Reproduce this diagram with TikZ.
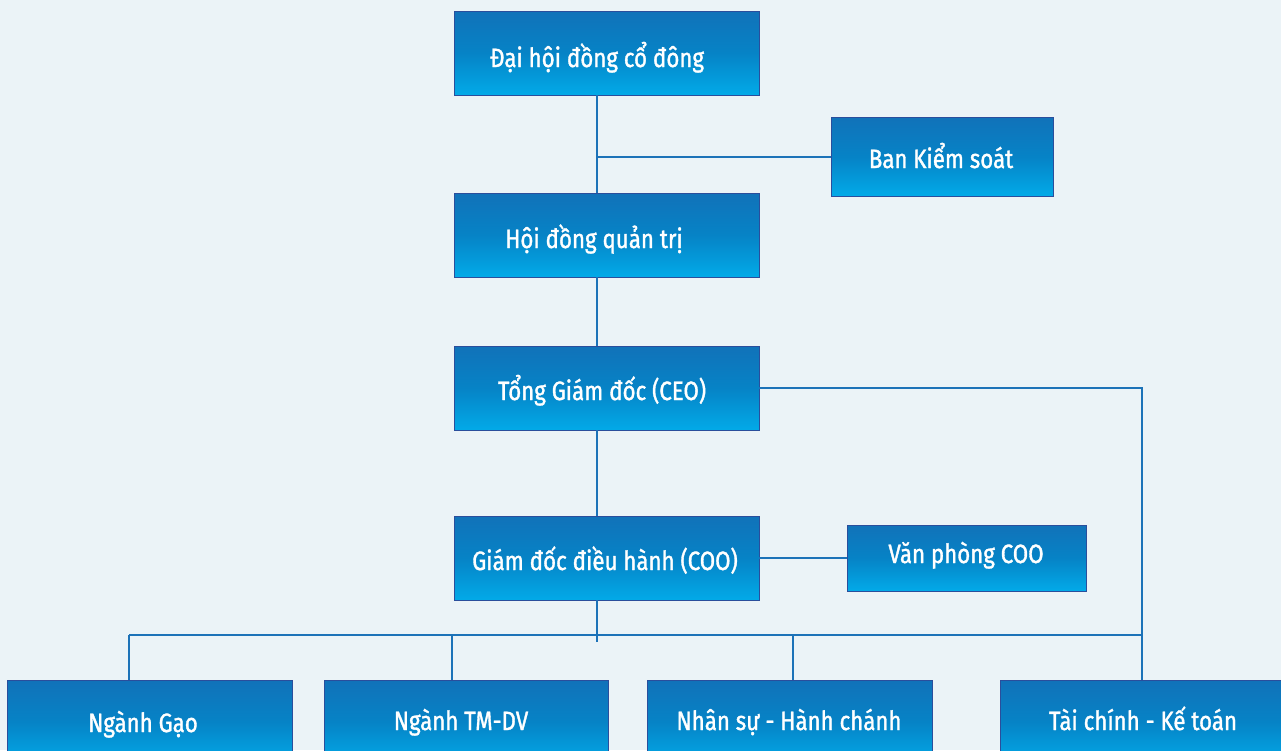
\documentclass[tikz,border=0pt]{standalone}
\usepackage{fontspec}
\usetikzlibrary{calc}
\setmainfont{Fira Sans}[FakeStretch=0.84,FakeBold=1.3]
\definecolor{bg}{HTML}{EBF3F7}
\definecolor{linec}{HTML}{1C72B8}
\definecolor{boxtop}{HTML}{1172B9}
\definecolor{boxbot}{HTML}{02AAE8}
\definecolor{boxmid}{HTML}{0683C6}
\definecolor{boxedge}{HTML}{2A4E9C}
\tikzset{
  orgbox/.style={draw=boxedge, line width=0.8pt, rectangle, inner sep=0pt,
    top color=boxtop, bottom color=boxbot, middle color=boxmid},
  lbl/.style={text=white, anchor=base, inner sep=0pt, font=\fontsize{26.5}{30}\selectfont},
  conn/.style={draw=linec, line width=1.8pt}
}
\begin{document}
\begin{tikzpicture}[x=1pt,y=-1pt]
\fill[bg] (0,0) rectangle (1281,750);
\useasboundingbox (0,0) rectangle (1281,750);
\clip (0,0) rectangle (1281,750);
% boxes
\node[orgbox, minimum width=305pt, minimum height=84pt] (dh) at (606.5,53) {};
\node[orgbox, minimum width=222pt, minimum height=79pt] (bks) at (942,156.5) {};
\node[orgbox, minimum width=305pt, minimum height=84pt] (hd) at (606.5,235) {};
\node[orgbox, minimum width=305pt, minimum height=84pt] (tgd) at (606.5,388) {};
\node[orgbox, minimum width=305pt, minimum height=84pt] (gd) at (606.5,558) {};
\node[orgbox, minimum width=239pt, minimum height=66pt] (vp) at (966.5,558) {};
\node[orgbox, minimum width=285pt, minimum height=84pt] (ng) at (149.5,722) {};
\node[orgbox, minimum width=284pt, minimum height=84pt] (tm) at (466,722) {};
\node[orgbox, minimum width=285pt, minimum height=84pt] (ns) at (789.5,722) {};
\node[orgbox, minimum width=281pt, minimum height=84pt] (tc) at (1140.5,722) {};
% texts (baselines)
\node[lbl] (tdh) at (597,67) {Đại hội đồng cổ đông};
\node[lbl] (tbks) at (941,168) {Ban Kiểm soát};
\node[lbl] (thd) at (594,248) {Hội đồng quản trị};
\node[lbl] (ttgd) at (602,400) {Tổng Giám đốc (CEO)};
\node[lbl] (tgd2) at (605,570) {Giám đốc điều hành (COO)};
\node[lbl] (tvp) at (966,563) {Văn phòng COO};
\node[lbl] (tng) at (143,732) {Ngành Gạo};
\node[lbl] (ttm) at (461,730) {Ngành TM-DV};
\node[lbl] (tns) at (789,730) {Nhân sự - Hành chánh};
\node[lbl] (ttc) at (1143,730) {Tài chính - Kế toán};
% connectors
\coordinate (j1) at (597,157);
\coordinate (busl) at (129,635);
\coordinate (busr) at (1143,635);
\coordinate (cr) at (1142,388);
\coordinate (busx) at (597,642);
\coordinate (b2) at (452,635);
\coordinate (b3) at (793,635);
\draw[conn] (dh.south -| j1) -- (hd.north -| j1);
\draw[conn] (j1) -- (bks.west |- j1);
\draw[conn] (hd.south -| j1) -- (tgd.north -| j1);
\draw[conn] (tgd.south -| j1) -- (gd.north -| j1);
\draw[conn] (gd.east) -- (vp.west |- gd.east);
\draw[conn] (tgd.east) -- (cr) -- (cr |- tc.north);
\draw[conn] (gd.south -| j1) -- (busx);
\draw[conn] (busl) -- (busr);
\draw[conn] (busl) -- (busl |- ng.north);
\draw[conn] (b2) -- (b2 |- tm.north);
\draw[conn] (b3) -- (b3 |- ns.north);
\end{tikzpicture}
\end{document}
